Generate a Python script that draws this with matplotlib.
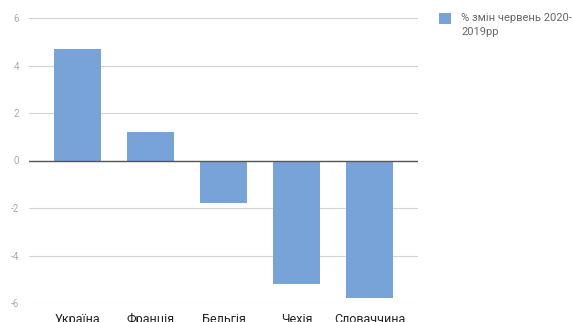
import matplotlib
matplotlib.use("Agg")
import matplotlib.pyplot as plt
from matplotlib.patches import Rectangle

countries = ["Україна", "Франція", "Бельгія", "Чехія", "Словаччина"]
changes = [4.68, 1.18, -1.81, -5.19, -5.78]
yticks = [-6, -4, -2, 0, 2, 4, 6]
series_name = "% змін червень 2020-\n2019рр"

bar_color = "#78a3d9"
W, H = 573, 322

plt.rcParams["font.family"] = ["Roboto", "DejaVu Sans"]

fig = plt.figure(figsize=(W / 100, H / 100), dpi=100)
ax = fig.add_axes([29 / W, 19 / H, 389 / W, 285 / H])

x = list(range(len(countries)))
ax.bar(x, changes, width=0.64, color=bar_color, zorder=3, label=series_name)

ax.set_xlim(-0.66, len(countries) - 0.34)
ax.set_ylim(-6, 6)
ax.set_yticks(yticks)
ax.set_yticklabels([str(v) for v in yticks])
ax.set_xticks(x)
ax.set_xticklabels(countries)

ax.grid(axis="y", color="#d4d4d4", linewidth=0.8, zorder=0)
ax.axhline(0, color="#555555", linewidth=1.0, zorder=4)

for s in ax.spines.values():
    s.set_visible(False)
ax.tick_params(axis="y", length=0, pad=7, labelsize=7, labelcolor="#aaaaaa")
ax.tick_params(axis="x", length=0, pad=7, labelsize=9, labelcolor="#222222")

# legend: swatch aligned with the first line of the series name
fig.patches.append(Rectangle((439 / W, 1 - 24 / H), 12 / W, 11 / H,
                             transform=fig.transFigure, facecolor=bar_color,
                             edgecolor="none"))
fig.text(461 / W, 1 - 13 / H, series_name, ha="left", va="top",
         fontsize=8, color="#666666", linespacing=1.55)

fig.savefig("out.png", dpi=100)
